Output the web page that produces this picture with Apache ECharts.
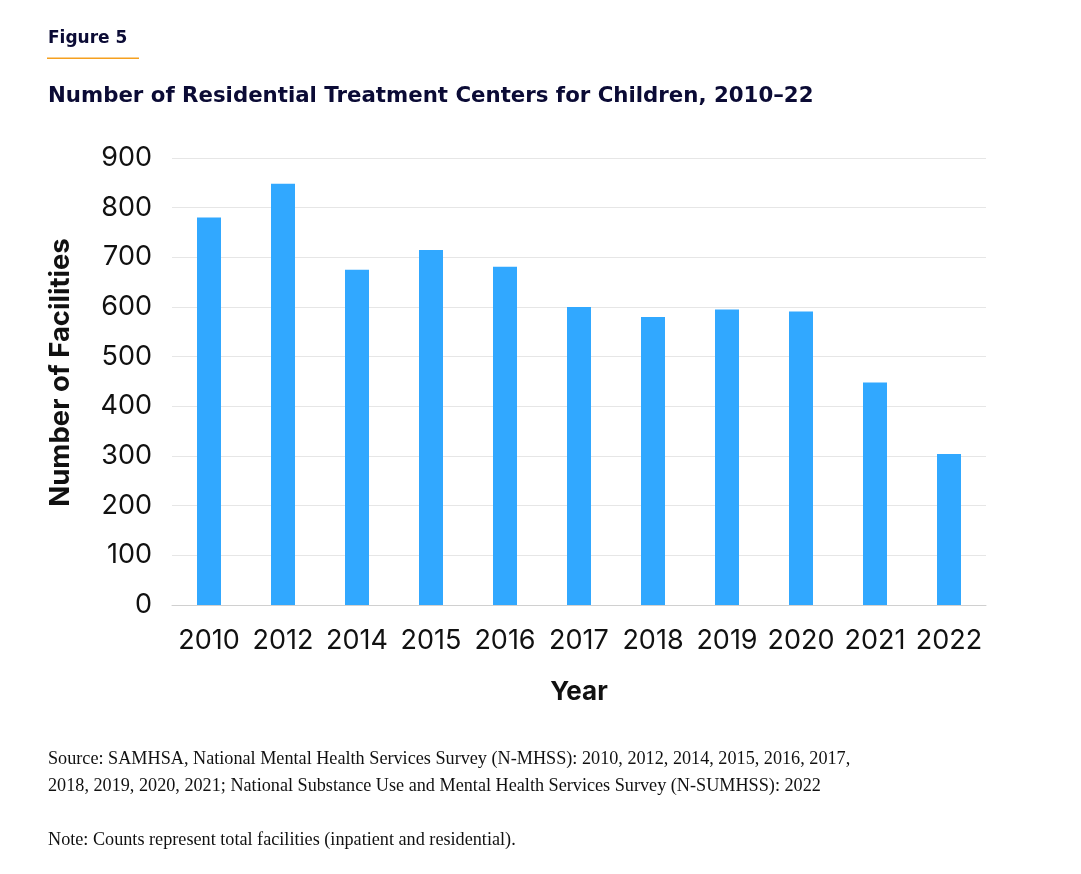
<!DOCTYPE html>
<html>
<head>
<meta charset="utf-8">
<script src="https://cdn.jsdelivr.net/npm/echarts@6/dist/echarts.min.js"></script>
<style>
html,body{margin:0;padding:0;background:#fff;}
#c{width:1081px;height:874px;}
</style>
</head>
<body>
<div id="c"></div>
<script>
const categories = ['2010','2012','2014','2015','2016','2017','2018','2019','2020','2021','2022'];
const facilities = [780, 848, 675, 715, 681, 600, 580, 595, 591, 448, 304];
const yTicks = {min: 0, max: 900, interval: 100};

const chart = echarts.init(document.getElementById('c'), null, {renderer: 'canvas'});
const navy = '#0b0b35';
chart.setOption({
  backgroundColor: '#fff',
  animation: false,
  title: [
    {text: 'Figure 5', left: 48, top: 30.5, padding: 0,
     textStyle: {fontFamily: 'DejaVu Sans', fontWeight: 'bold', fontSize: 17, color: navy}},
    {text: 'Number of Residential Treatment Centers for Children, 2010\u201322', left: 48, top: 85.5, padding: 0,
     textStyle: {fontFamily: 'DejaVu Sans', fontWeight: 'bold', fontSize: 21.3, color: navy}},
    {text: 'Source: SAMHSA, National Mental Health Services Survey (N-MHSS): 2010, 2012, 2014, 2015, 2016, 2017,\n2018, 2019, 2020, 2021; National Substance Use and Mental Health Services Survey (N-SUMHSS): 2022',
     left: 48, top: 746, padding: 0,
     textStyle: {fontFamily: 'Liberation Serif', fontWeight: 'normal', fontSize: 18.2, lineHeight: 27, color: '#111'}},
    {text: 'Note: Counts represent total facilities (inpatient and residential).', left: 48, top: 827, padding: 0,
     textStyle: {fontFamily: 'Liberation Serif', fontWeight: 'normal', fontSize: 18.2, lineHeight: 27, color: '#111'}}
  ],
  graphic: [
    {type: 'rect', shape: {x: 47, y: 57.5, width: 92, height: 1.5}, style: {fill: '#f5a01f'}}
  ],
  grid: {left: 172, right: 95, top: 158, bottom: 269, containLabel: false},
  xAxis: {
    type: 'category', data: categories,
    name: 'Year', nameLocation: 'middle', nameGap: 74,
    nameTextStyle: {fontFamily: 'Inter', fontWeight: 'bold', fontSize: 26, color: '#111'},
    axisLine: {show: true, lineStyle: {color: '#d0d0d0', width: 1}},
    axisTick: {show: false},
    axisLabel: {fontFamily: 'Inter', fontSize: 27, color: '#111', margin: 22, interval: 0}
  },
  yAxis: {
    type: 'value', min: yTicks.min, max: yTicks.max, interval: yTicks.interval,
    name: 'Number of Facilities', nameLocation: 'middle', nameGap: 97,
    nameTextStyle: {fontFamily: 'Inter', fontWeight: 'bold', fontSize: 27.5, color: '#111', padding: [0, 0, 0, 18]},
    axisLine: {show: false}, axisTick: {show: false},
    axisLabel: {fontFamily: 'Inter', fontSize: 27, color: '#111', margin: 20},
    splitLine: {lineStyle: {color: '#e6e6e6', width: 1}}
  },
  series: [{
    type: 'bar', data: facilities, barWidth: 24,
    itemStyle: {color: '#31a8ff'}
  }]
});
</script>
</body>
</html>
